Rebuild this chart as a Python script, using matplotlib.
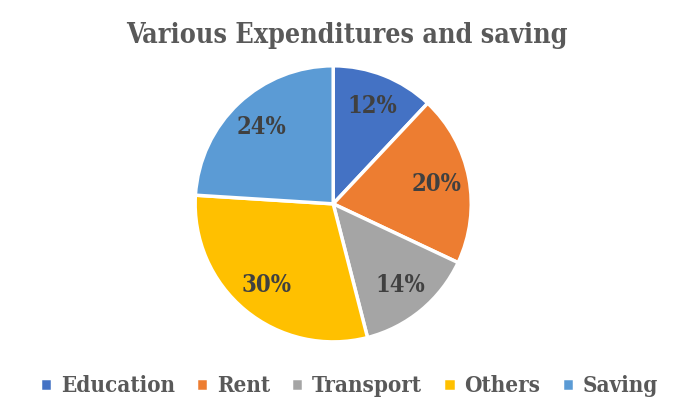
import matplotlib
matplotlib.use("Agg")
import matplotlib.pyplot as plt

categories = ["Education", "Rent", "Transport", "Others", "Saving"]
shares = [12, 20, 14, 30, 24]
colors = ["#4472C4", "#ED7D31", "#A5A5A5", "#FFC000", "#5B9BD5"]

plt.rcParams["font.family"] = "DejaVu Serif"
plt.rcParams["font.stretch"] = "condensed"

fig = plt.figure(figsize=(6.92, 4.19), dpi=100)
ax = fig.add_axes([0.282, 0.184, 0.399, 0.659])
wedges, texts, autotexts = ax.pie(
    shares, colors=colors, startangle=90, counterclock=False,
    autopct="%1.0f%%", pctdistance=0.76,
    wedgeprops=dict(edgecolor="white", linewidth=2.5),
    textprops=dict(color="#404040", fontsize=17, fontweight="bold"),
)
ax.set_xlim(-1, 1)
ax.set_ylim(-1, 1)
ax.set_aspect("equal")

fig.text(0.501, 0.915, "Various Expenditures and saving", ha="center", va="center",
         fontsize=19.3, fontweight="bold", color="#595959")

fig.legend(wedges, categories, loc="center", bbox_to_anchor=(0.504, 0.078), ncol=5,
           frameon=False, handlelength=0.55, handleheight=0.55, handletextpad=0.4,
           columnspacing=0.95, prop=dict(size=16, weight="bold"), labelcolor="#595959")

fig.savefig("out.png", dpi=100)
